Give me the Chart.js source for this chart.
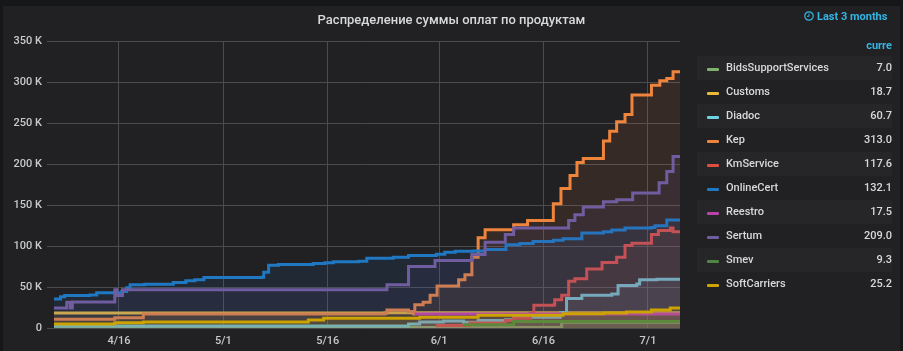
<!DOCTYPE html>
<html>
<head>
<meta charset="utf-8">
<script src="https://cdn.jsdelivr.net/npm/chart.js@4/dist/chart.umd.min.js"></script>
<style>
  html, body { margin: 0; padding: 0; width: 903px; height: 351px; overflow: hidden; background: #161719; }
  body { font-family: Roboto, sans-serif; color: #d8d9da; }
  #panel { position: absolute; left: 3px; top: 6px; width: 897px; height: 345px; background: #212124; }
  #grafico { position: absolute; left: 0; top: 0; }
  #titulo { position: absolute; left: 0; top: 12px; width: 903px; text-align: center; font-size: 13px; font-weight: 500; line-height: 16px; color: #d8d9da; }
  #rango { position: absolute; left: 804px; top: 9px; font-size: 11px; font-weight: 700; line-height: 16px; color: #33b5e5; white-space: nowrap; }
  #rango svg { vertical-align: -1px; margin-right: 3px; }
  #cabecera { position: absolute; left: 697px; top: 38px; width: 195px; text-align: right; font-size: 11px; font-weight: 700; line-height: 16px; color: #33b5e5; }
  #leyenda { position: absolute; left: 697px; top: 56px; width: 195px; font-size: 11px; font-weight: 500; }
  .fila { position: relative; height: 24px; line-height: 23px; }
  .fila:nth-child(odd) { background: #262628; }
  .muestra { position: absolute; left: 10px; top: 12px; width: 12px; height: 3px; border-radius: 1px; }
  .nombre { position: absolute; left: 29px; }
  .valor { position: absolute; right: 0; }
</style>
</head>
<body>
<div id="panel"></div>
<canvas id="grafico" width="690" height="351"></canvas>
<div id="titulo">Распределение суммы оплат по продуктам</div>
<div id="rango"><svg width="10" height="10" viewBox="0 0 10 10"><circle cx="5" cy="5" r="4.2" fill="none" stroke="#33b5e5" stroke-width="1.2"/><path d="M5 2.5V5.3H3" fill="none" stroke="#33b5e5" stroke-width="1"/></svg>Last 3 months</div>
<div id="cabecera">curre</div>
<div id="leyenda"></div>
<script>
// Days are counted from April 1, values are in thousands
const tickDays = [15, 30, 45, 61, 76, 91];
const tickLabels = ["4/16", "5/1", "5/16", "6/1", "6/16", "7/1"];
const yTicks = [0, 50, 100, 150, 200, 250, 300, 350];

const names = ["BidsSupportServices", "Customs", "Diadoc", "Kep", "KmService", "OnlineCert", "Reestro", "Sertum", "Smev", "SoftCarriers"];
const current = ["7.0", "18.7", "60.7", "313.0", "117.6", "132.1", "17.5", "209.0", "9.3", "25.2"];
const colors = ["#7eb26d", "#eab839", "#6ed0e0", "#ef843c", "#e24d42", "#1f78c1", "#ba43a9", "#705da0", "#508642", "#cca300"];

const bidsDays = [5.66, 78.6, 95.6];
const bidsValues = [0.5, 7, 7];

const customsDays = [5.66, 53.2, 95.6];
const customsValues = [18.3, 18.5, 18.7];

const diadocDays = [5.66, 56.6, 58.2, 61.6, 64.5, 66.6, 70.5, 71.7, 78.4, 79.3, 81.5, 85.8, 86.7, 89.4, 89.8, 92.3, 95.6];
const diadocValues = [2.5, 5, 7.3, 8.6, 7, 9, 10, 13, 19, 36, 40, 41.6, 51.8, 53.8, 58.7, 59.5, 60.7];

const kepDays = [5.66, 14.4, 18.5, 53.2, 53.5, 56.6, 57.3, 57.5, 58.7, 59.7, 60.7, 63.8, 64.7, 65.7, 66.6, 67.6, 71.7, 73.7, 77.4, 78.5, 79.8, 80.8, 81.7, 84.6, 85.5, 86.5, 87.7, 88.7, 91.5, 92.7, 93.7, 94.6, 95.6];
const kepValues = [10.6, 12.6, 17, 18, 22, 20, 17, 28.5, 31.4, 40, 51.3, 58.7, 64.8, 86.4, 110, 119.8, 126, 131, 151.6, 170, 186, 201.7, 206.6, 228, 240, 251.4, 260.4, 284, 296, 301.5, 304.4, 312.5, 313];

const kmDays = [60.5, 65.4, 70.5, 71.7, 74.1, 74.6, 77.5, 77.6, 78.6, 79.6, 80.5, 82.2, 84.4, 86.5, 87.7, 88.7, 91.5, 92.5, 94.2, 94.6, 95.6];
const kmValues = [2.9, 6, 9, 11.8, 18, 27.7, 28.5, 34.6, 40, 57, 60, 72, 80, 86.4, 100.6, 103.5, 114, 119, 121.8, 117.4, 117.6];

const onlineDays = [5.66, 6.6, 7.2, 10.8, 11.8, 15.4, 16.1, 16.6, 18.7, 22.8, 24.6, 25.9, 27.2, 35.5, 35.8, 36.5, 37.9, 42.9, 44.6, 45.8, 49.4, 50.6, 54.4, 56.6, 60.6, 61.8, 63.3, 65.9, 67.6, 70.6, 72.6, 74.5, 77.4, 78.8, 81.5, 84.6, 85.8, 87.7, 91.5, 92, 93.7, 95.6];
const onlineValues = [35.5, 38, 39.5, 40.3, 43, 44.4, 49, 52.6, 53.4, 55.4, 57.5, 58.7, 61.5, 62, 68, 76.6, 77.4, 78.6, 79.5, 80.7, 81.5, 85, 86.4, 88.4, 90, 92.5, 93.7, 94, 95.8, 101.5, 103, 105.5, 107, 108.8, 116, 117.4, 119.4, 122, 122.7, 124.7, 131.6, 132.1];

const reestroDays = [57.5, 95.6];
const reestroValues = [17, 17.5];

const sertumDays = [5.66, 7.5, 8, 8.3, 14.4, 14.7, 15.5, 53.5, 56.6, 60.4, 65.7, 67.6, 70.5, 71.7, 79.6, 80.5, 81.7, 84.6, 86.5, 88.8, 92.6, 93.7, 94.6, 95.6];
const sertumValues = [24.5, 31.4, 24.5, 31.8, 46.5, 39.5, 46.5, 52.6, 75, 82.3, 89.6, 104.7, 114, 121.8, 131, 138, 147.5, 154, 156.5, 164.6, 177, 191, 209, 209];

const smevDays = [64.5, 71.7, 95.6];
const smevValues = [4, 8, 9.3];

const softDays = [5.66, 14.4, 18.5, 42.2, 44.4, 58.2, 66.6, 78.8, 84.6, 87.9, 91.5, 94.2, 95.6];
const softValues = [5, 6.5, 7.3, 9.8, 11.8, 13, 15.5, 17.5, 18.3, 19.6, 22, 24.5, 25.2];

const allDays = [bidsDays, customsDays, diadocDays, kepDays, kmDays, onlineDays, reestroDays, sertumDays, smevDays, softDays];
const allValues = [bidsValues, customsValues, diadocValues, kepValues, kmValues, onlineValues, reestroValues, sertumValues, smevValues, softValues];

// Turn a #rrggbb colour into a transparent fill
function relleno(hex) {
  const r = parseInt(hex.slice(1, 3), 16);
  const g = parseInt(hex.slice(3, 5), 16);
  const b = parseInt(hex.slice(5, 7), 16);
  return "rgba(" + r + "," + g + "," + b + ",0.1)";
}

// Legend on the right is plain html
function crearLeyenda() {
  const caja = document.getElementById("leyenda");
  names.forEach(function (name, i) {
    const fila = document.createElement("div");
    fila.className = "fila";
    fila.innerHTML = '<span class="muestra" style="background:' + colors[i] + '"></span>' +
      '<span class="nombre">' + name + '</span><span class="valor">' + current[i] + '</span>';
    caja.appendChild(fila);
  });
}

const datasets = names.map(function (name, i) {
  return {
    label: name,
    data: allDays[i].map(function (d, j) { return { x: d, y: allValues[i][j] }; }),
    borderColor: colors[i],
    backgroundColor: relleno(colors[i]),
    borderWidth: 3,
    pointRadius: 0,
    stepped: true,
    fill: "origin",
    order: -i // later series are painted over earlier ones
  };
});

new Chart(document.getElementById("grafico"), {
  type: "line",
  data: { datasets: datasets },
  options: {
    responsive: false,
    animation: false,
    layout: { padding: { top: 41, right: 10, left: 0, bottom: 0 } },
    plugins: { legend: { display: false }, title: { display: false }, tooltip: { enabled: false } },
    scales: {
      x: {
        type: "linear",
        min: 4.66,
        max: 95.6,
        afterBuildTicks: function (axis) {
          axis.ticks = tickDays.map(function (d) { return { value: d }; });
        },
        afterFit: function (axis) { axis.height = 23; },
        grid: { color: "#4c4c4e", lineWidth: 1, drawTicks: false },
        border: { display: false },
        ticks: {
          padding: 7,
          maxRotation: 0,
          autoSkip: false,
          color: "#c8c9ca",
          font: { family: "Roboto", size: 11, weight: "500" },
          callback: function (value) { return tickLabels[tickDays.indexOf(value)]; }
        }
      },
      y: {
        min: 0,
        max: 350,
        afterBuildTicks: function (axis) {
          axis.ticks = yTicks.map(function (v) { return { value: v }; });
        },
        afterFit: function (axis) { axis.width = 47; },
        grid: { color: "#4c4c4e", lineWidth: 1, drawTicks: false },
        border: { display: false },
        ticks: {
          padding: 5,
          color: "#c8c9ca",
          font: { family: "Roboto", size: 11, weight: "500" },
          callback: function (value) { return value === 0 ? "0" : value + " K"; }
        }
      }
    }
  }
});

crearLeyenda();
</script>
</body>
</html>
